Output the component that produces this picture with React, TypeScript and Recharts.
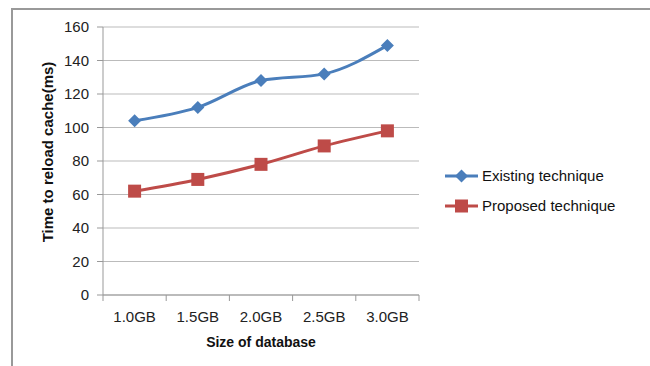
import { LineChart, Line, XAxis, YAxis, CartesianGrid } from "recharts";

const sizes = ["1.0GB", "1.5GB", "2.0GB", "2.5GB", "3.0GB"];
const existing = [104, 112, 128, 132, 149];
const proposed = [62, 69, 78, 89, 98];
const yTicks = [0, 20, 40, 60, 80, 100, 120, 140, 160];
const seriesNames = ["Existing technique", "Proposed technique"];

const BLUE = "#4a7ebb";
const RED = "#be4b48";
const FONT = "'Liberation Sans', Arial, sans-serif";

const W = 650;
const H = 366;
const PLOT_LEFT = 103;
const PLOT_RIGHT = 419;
const PLOT_TOP = 27;
const PLOT_BOTTOM = 295;
const BAND = (PLOT_RIGHT - PLOT_LEFT) / sizes.length;

const data = sizes.map((s, i) => ({ size: s, existing: existing[i], proposed: proposed[i] }));

function Diamond({ cx, cy, fill }: any) {
  if (cx == null || cy == null) return null;
  const r = 6.5;
  return <path d={`M${cx},${cy - r}L${cx + r},${cy}L${cx},${cy + r}L${cx - r},${cy}Z`} fill={fill} />;
}

function Square({ cx, cy, fill }: any) {
  if (cx == null || cy == null) return null;
  const r = 6.5;
  return <rect x={cx - r} y={cy - r} width={r * 2} height={r * 2} fill={fill} />;
}

// category labels centred, tick marks on the band edges like Excel
function XTick({ x, y, payload, index }: any) {
  return (
    <g>
      <line x1={x - BAND / 2} x2={x - BAND / 2} y1={PLOT_BOTTOM} y2={PLOT_BOTTOM + 6} stroke="#999" />
      {index === sizes.length - 1 && (
        <line x1={x + BAND / 2} x2={x + BAND / 2} y1={PLOT_BOTTOM} y2={PLOT_BOTTOM + 6} stroke="#999" />
      )}
      <text x={x} y={y + 19} textAnchor="middle" fontSize={15} fill="#222" fontFamily={FONT}>
        {payload.value}
      </text>
    </g>
  );
}

function LegendBox() {
  const colors = [BLUE, RED];
  return (
    <svg width={200} height={60} style={{ position: "absolute", left: 443, top: 165 }}>
      {seriesNames.map((name, i) => {
        const cy = 11 + i * 30;
        return (
          <g key={name}>
            <line x1={2} x2={35} y1={cy} y2={cy} stroke={colors[i]} strokeWidth={3} />
            {i === 0 ? <Diamond cx={18.5} cy={cy} fill={colors[i]} /> : <Square cx={18.5} cy={cy} fill={colors[i]} />}
            <text x={39} y={cy + 5} fontSize={15} fill="#111" fontFamily={FONT}>
              {name}
            </text>
          </g>
        );
      })}
    </svg>
  );
}

function YLabel() {
  return (
    <text
      x={53}
      y={152}
      transform="rotate(-90, 53, 152)"
      textAnchor="middle"
      fontSize={15}
      fontWeight="bold"
      fill="#111"
      fontFamily={FONT}
    >
      Time to reload cache(ms)
    </text>
  );
}

export default function App() {
  return (
    <div style={{ position: "absolute", left: 0, top: 0, width: W, height: H, background: "#fff" }}>
      <div
        style={{
          position: "absolute",
          left: 11,
          top: 8,
          width: W - 11,
          height: H - 8,
          borderTop: "2px solid #999",
          borderLeft: "2px solid #999",
        }}
      />
      <div style={{ position: "absolute", left: 0, top: 0 }}>
        <LineChart
          width={W}
          height={H}
          data={data}
          margin={{ top: PLOT_TOP, right: W - PLOT_RIGHT, bottom: H - PLOT_BOTTOM - 56, left: PLOT_LEFT - 60 }}
        >
          <CartesianGrid vertical={false} stroke="#bbb" strokeWidth={1} />
          <XAxis
            dataKey="size"
            height={56}
            padding={{ left: BAND / 2, right: BAND / 2 }}
            axisLine={{ stroke: "#999" }}
            tickLine={false}
            tick={<XTick />}
            interval={0}
            label={{
              value: "Size of database",
              position: "insideBottom",
              offset: 4,
              fontSize: 14,
              fontWeight: "bold",
              fill: "#111",
              fontFamily: FONT,
            }}
          />
          <YAxis
            width={60}
            domain={[0, 160]}
            ticks={yTicks}
            interval={0}
            axisLine={{ stroke: "#999" }}
            tickLine={{ stroke: "#999" }}
            tickSize={6}
            tickMargin={8}
            tick={{ fontSize: 15, fill: "#222", fontFamily: FONT }}
            label={<YLabel />}
          />
          <Line
            type="monotone"
            dataKey="existing"
            name={seriesNames[0]}
            stroke={BLUE}
            strokeWidth={3}
            dot={<Diamond fill={BLUE} />}
            activeDot={false}
            isAnimationActive={false}
          />
          <Line
            type="monotone"
            dataKey="proposed"
            name={seriesNames[1]}
            stroke={RED}
            strokeWidth={3}
            dot={<Square fill={RED} />}
            activeDot={false}
            isAnimationActive={false}
          />
        </LineChart>
      </div>
      <LegendBox />
    </div>
  );
}
